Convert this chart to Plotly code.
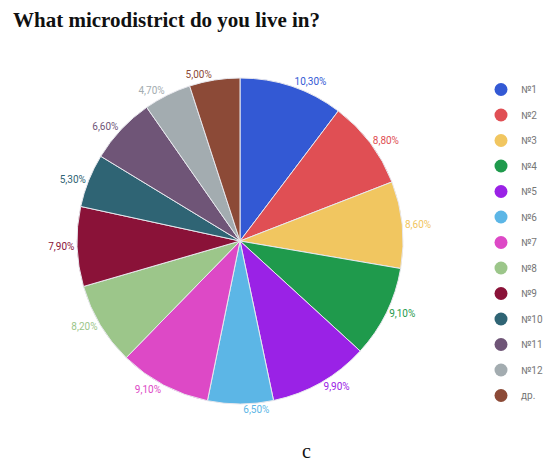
import plotly.graph_objects as go

labels = ["№1", "№2", "№3", "№4", "№5", "№6", "№7", "№8", "№9", "№10", "№11", "№12", "др."]
values = [10.3, 8.8, 8.6, 9.1, 9.9, 6.5, 9.1, 8.2, 7.9, 5.3, 6.6, 4.7, 5.0]
colors = ["#3359d4", "#e04f54", "#f1c660", "#1f9a4c", "#9a22e6", "#5cb6e6", "#dd49c6",
          "#9cc68a", "#8a1238", "#2f6474", "#6f5577", "#a3acb0", "#8c4a37"]

W, H = 548, 461
cx, cy, r = 240, 241, 163

fig = go.Figure()
fig.add_trace(go.Pie(
    labels=labels, values=values, sort=False, direction="clockwise", rotation=0,
    marker=dict(colors=colors, line=dict(color="#e8e8ee", width=1)),
    textposition="outside", texttemplate="%{value:.2f}%",
    textfont=dict(color=colors, size=10, family="Roboto"),
    showlegend=False, hoverinfo="label+value",
    domain=dict(x=[(cx - r) / W, (cx + r) / W], y=[1 - (cy + r) / H, 1 - (cy - r) / H]),
))
for lab, col in zip(labels, colors):
    fig.add_trace(go.Scatter(
        x=[None], y=[None], mode="markers", name=lab, legendgroup=lab,
        marker=dict(symbol="circle", size=13, color=col),
    ))

fig.update_layout(
    width=W, height=H, margin=dict(l=0, r=0, t=0, b=0, autoexpand=False),
    paper_bgcolor="white", plot_bgcolor="white",
    separators=", ",
    xaxis=dict(visible=False), yaxis=dict(visible=False),
    legend=dict(x=481 / W, y=1 - 75 / H, xanchor="left", yanchor="top",
                font=dict(size=10, color="#777777", family="Roboto"),
                tracegroupgap=6.5, itemwidth=30),
    annotations=[
        dict(text="<b>What microdistrict do you live in?</b>", x=11 / W, y=1 - 6 / H, xref="paper", yref="paper",
             xanchor="left", yanchor="top", showarrow=False,
             font=dict(family="Liberation Serif", size=21, color="#111111")),
        dict(text="c", x=306 / W, y=1 - 451 / H, xref="paper", yref="paper",
             xanchor="center", yanchor="middle", showarrow=False,
             font=dict(family="Liberation Serif", size=20, color="#111111")),
    ],
)
fig.write_html("out.html")
